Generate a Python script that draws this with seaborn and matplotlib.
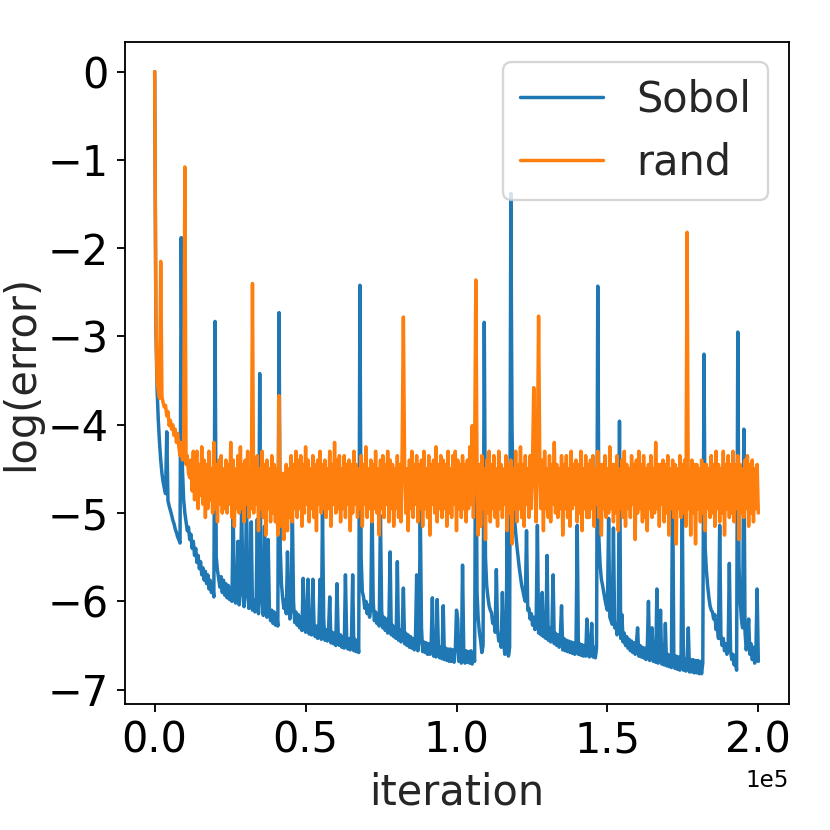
import numpy as np
import pandas as pd
import seaborn as sns
import matplotlib
matplotlib.use("Agg")
import matplotlib.pyplot as plt

# iteration grid: one logged value every 400 iterations, 0 .. 200000
step = 400
iterations = np.arange(501) * step

# log(error), Sobol sampling (20 values per row)
sobol = [
    0.0, -2.9, -3.6, -3.95, -4.2, -4.4, -4.55, -4.65, -4.72, -4.78,
    -4.08, -4.86, -4.92, -4.97, -5.02, -5.08, -5.12, -5.18, -5.22, -5.27,
    -5.3, -5.34, -1.88, -4.5, -4.85, -5.0, -5.1, -5.2, -5.16, -5.3,
    -5.24, -5.4, -5.32, -5.48, -5.4, -5.56, -5.48, -5.63, -5.55, -5.7,
    -5.62, -5.76, -5.66, -5.8, -5.7, -5.86, -5.76, -5.9, -5.82, -5.95,
    -2.83, -5.5, -5.65, -5.74, -5.84, -5.72, -5.9, -5.76, -5.93, -5.8,
    -5.96, -5.82, -5.98, -5.85, -6.0, -5.0, -5.88, -6.02, -5.9, -5.32,
    -6.04, -5.9, -4.95, -5.7, -6.06, -5.92, -4.84, -5.75, -6.08, -5.96,
    -5.1, -6.1, -5.98, -6.12, -6.0, -5.07, -6.14, -3.42, -5.8, -6.02,
    -6.16, -5.15, -6.05, -6.18, -5.3, -6.08, -6.22, -6.1, -6.25, -6.12,
    -6.27, -6.14, -6.28, -2.73, -5.4, -5.8, -5.96, -6.08, -5.98, -6.14,
    -5.44, -6.05, -6.2, -6.08, -4.95, -6.0, -6.24, -6.12, -6.27, -6.15,
    -6.3, -6.18, -6.33, -5.74, -6.2, -6.35, -6.22, -5.75, -6.37, -6.24,
    -6.38, -5.75, -6.26, -6.4, -6.28, -6.42, -6.3, -5.75, -6.43, -4.98,
    -6.2, -6.44, -6.32, -6.45, -6.33, -5.95, -6.47, -6.35, -6.48, -6.36,
    -6.5, -5.8, -6.38, -6.5, -6.38, -6.52, -6.4, -6.53, -5.7, -6.41,
    -6.54, -6.42, -6.55, -6.42, -5.7, -6.56, -6.43, -6.57, -6.45, -6.58,
    -2.42, -5.5, -5.89, -5.95, -6.08, -6.0, -6.14, -6.04, -6.18, -6.08,
    -4.84, -6.0, -6.22, -6.12, -6.25, -6.14, -6.28, -5.03, -6.1, -6.3,
    -6.18, -6.33, -6.2, -6.36, -6.24, -5.44, -6.38, -6.27, -6.4, -6.29,
    -6.42, -5.55, -6.44, -6.32, -6.46, -6.34, -5.85, -6.48, -6.36, -6.5,
    -6.38, -6.52, -6.4, -6.53, -6.42, -6.55, -6.43, -5.7, -6.56, -6.44,
    -4.98, -6.3, -6.57, -6.46, -6.58, -6.47, -6.6, -6.48, -6.6, -6.49,
    -5.96, -6.62, -6.5, -6.63, -5.98, -6.52, -6.64, -6.52, -6.65, -6.05,
    -6.66, -6.53, -6.67, -6.54, -6.68, -6.54, -6.68, -6.55, -6.69, -6.56,
    -6.1, -6.2, -6.68, -6.56, -6.7, -5.59, -6.57, -6.7, -6.56, -6.69,
    -6.57, -6.7, -6.56, -6.71, -6.58, -6.68, -3.3, -5.9, -6.2, -6.35,
    -6.45, -6.58, -6.5, -2.84, -5.5, -5.82, -5.95, -6.05, -6.1, -6.13,
    -6.25, -6.2, -6.35, -5.64, -6.32, -6.45, -6.38, -6.52, -5.9, -6.45,
    -6.6, -6.5, -5.17, -6.62, -6.52, -1.38, -4.05, -4.84, -5.05, -5.22,
    -5.37, -5.5, -5.62, -5.72, -5.82, -5.88, -5.95, -6.0, -5.2, -6.1,
    -6.08, -6.2, -6.14, -6.27, -6.18, -6.32, -6.22, -5.14, -6.36, -6.25,
    -6.38, -5.9, -6.4, -6.28, -6.42, -5.48, -6.44, -6.3, -6.46, -6.33,
    -5.7, -6.48, -6.36, -6.5, -6.38, -6.52, -6.4, -6.05, -6.55, -6.42,
    -6.56, -6.44, -6.57, -6.45, -6.58, -6.46, -6.59, -6.47, -6.6, -6.48,
    -5.14, -6.6, -6.48, -6.61, -6.49, -6.62, -6.5, -6.62, -6.2, -6.51,
    -6.63, -6.52, -6.25, -6.63, -6.52, -6.64, -6.53, -2.43, -5.3, -5.6,
    -5.75, -5.82, -5.9, -5.98, -6.05, -6.1, -5.06, -6.18, -6.22, -6.26,
    -5.17, -6.3, -6.25, -6.38, -6.3, -3.96, -6.42, -6.15, -6.46, -6.36,
    -6.5, -6.4, -6.53, -6.43, -6.56, -6.45, -6.58, -6.47, -6.6, -6.48,
    -6.3, -6.62, -6.5, -6.63, -6.52, -6.64, -6.53, -6.66, -6.54, -6.0,
    -6.67, -6.55, -6.3, -6.68, -6.56, -6.69, -5.86, -6.7, -6.58, -6.1,
    -6.71, -6.6, -6.72, -6.25, -6.73, -6.6, -6.74, -6.61, -6.75, -4.6,
    -6.62, -6.76, -6.62, -6.77, -6.63, -6.78, -6.64, -4.87, -6.78, -6.65,
    -6.79, -6.65, -6.3, -6.8, -6.66, -6.8, -6.66, -6.81, -6.67, -6.81,
    -6.67, -6.82, -6.68, -6.82, -6.7, -3.2, -5.4, -5.65, -5.82, -5.95,
    -6.05, -6.1, -6.12, -6.2, -6.15, -6.32, -6.25, -6.42, -5.14, -6.38,
    -6.5, -6.42, -6.56, -6.48, -6.6, -6.52, -5.57, -6.56, -6.66, -6.6,
    -6.72, -6.64, -6.78, -2.95, -5.6, -6.0, -6.2, -6.3, -4.05, -6.35,
    -6.55, -6.42, -6.2, -6.6, -6.48, -6.66, -6.52, -6.7, -6.56, -5.86,
    -6.68,
]

# log(error), plain random sampling (20 values per row)
rand = [
    0.0, -2.8, -3.5, -3.62, -3.7, -2.15, -3.68, -3.75, -3.8, -3.78,
    -3.9, -3.85, -4.01, -3.95, -4.05, -4.0, -4.12, -4.05, -4.2, -4.1,
    -4.25, -4.35, -4.2, -4.4, -4.3, -1.08, -4.45, -4.35, -4.55, -4.6,
    -4.4, -4.75, -4.3, -4.85, -4.45, -4.3, -4.95, -4.45, -4.8, -4.25,
    -4.9, -4.4, -5.05, -4.45, -4.95, -4.3, -4.85, -4.5, -5.0, -4.2,
    -4.95, -4.45, -5.1, -4.4, -4.9, -4.35, -5.0, -4.5, -4.95, -4.4,
    -5.0, -4.45, -4.9, -4.2, -5.05, -4.4, -5.15, -4.5, -4.95, -4.35,
    -5.0, -4.25, -4.95, -4.45, -5.1, -4.4, -4.9, -4.3, -5.05, -4.5,
    -4.95, -2.4, -5.0, -4.4, -4.9, -4.35, -5.2, -4.5, -4.95, -4.3,
    -5.05, -4.45, -5.25, -4.4, -4.95, -4.5, -5.1, -4.35, -5.0, -4.45,
    -5.1, -4.5, -5.25, -3.67, -4.95, -5.15, -4.55, -5.3, -4.95, -4.45,
    -5.2, -4.5, -5.05, -4.35, -5.1, -4.45, -4.95, -4.3, -5.05, -4.4,
    -4.95, -4.35, -5.15, -4.45, -5.0, -4.25, -4.9, -4.4, -5.1, -4.5,
    -4.95, -4.35, -5.05, -4.45, -5.2, -4.4, -4.9, -4.3, -5.0, -4.45,
    -4.95, -4.4, -5.05, -4.5, -4.95, -4.3, -5.15, -4.45, -4.9, -4.2,
    -5.0, -4.4, -4.95, -4.35, -5.1, -4.5, -4.95, -4.35, -5.05, -4.45,
    -4.9, -4.4, -5.2, -4.45, -5.0, -4.3, -4.9, -4.45, -5.05, -4.5,
    -4.95, -4.35, -5.15, -4.45, -4.9, -4.25, -5.05, -4.5, -4.95, -4.4,
    -5.1, -4.45, -4.95, -4.3, -5.0, -4.5, -5.25, -4.4, -4.95, -4.35,
    -5.05, -4.45, -4.9, -4.3, -5.1, -4.4, -4.95, -4.45, -5.15, -4.5,
    -4.95, -4.35, -5.05, -4.45, -5.1, -4.25, -2.78, -4.45, -5.0, -4.5,
    -5.2, -4.4, -4.95, -4.3, -5.05, -4.45, -4.9, -4.35, -5.1, -4.45,
    -4.95, -4.4, -5.15, -4.3, -4.95, -4.5, -5.05, -4.35, -5.25, -4.45,
    -4.9, -4.4, -5.0, -4.25, -5.1, -4.45, -4.95, -4.35, -5.05, -4.4,
    -4.95, -4.45, -5.15, -4.3, -5.0, -4.5, -5.05, -4.35, -4.9, -4.3,
    -5.2, -4.4, -4.95, -4.45, -5.05, -4.35, -4.95, -4.45, -5.1, -4.4,
    -4.95, -4.25, -4.9, -4.01, -5.05, -4.45, -2.36, -4.5, -5.25, -4.45,
    -5.15, -4.35, -4.95, -4.5, -5.3, -4.4, -5.0, -4.3, -5.1, -4.45,
    -4.95, -4.35, -5.05, -4.5, -5.15, -4.3, -4.95, -4.45, -5.05, -4.5,
    -4.9, -4.35, -5.2, -4.45, -5.0, -4.4, -5.35, -4.5, -4.95, -4.3,
    -5.1, -4.45, -4.95, -4.25, -5.05, -4.45, -5.15, -4.35, -4.9, -4.5,
    -5.05, -4.35, -4.95, -4.4, -3.58, -4.5, -5.1, -4.3, -2.77, -4.45,
    -4.95, -4.4, -5.2, -4.3, -4.95, -4.5, -5.05, -4.35, -5.1, -4.45,
    -4.9, -4.2, -5.0, -4.45, -5.05, -4.5, -4.95, -4.35, -5.25, -4.45,
    -4.95, -4.35, -5.05, -4.5, -5.15, -4.3, -4.95, -4.45, -4.9, -4.4,
    -5.1, -4.45, -5.0, -4.3, -5.2, -4.5, -4.95, -4.35, -5.05, -4.45,
    -5.05, -4.4, -4.95, -4.35, -5.15, -4.5, -4.9, -4.3, -5.05, -4.45,
    -5.25, -4.45, -4.95, -4.35, -5.05, -4.5, -5.0, -4.25, -4.95, -4.45,
    -5.1, -4.45, -5.0, -4.35, -5.2, -4.5, -4.95, -4.4, -5.05, -4.3,
    -5.15, -4.45, -4.95, -4.5, -5.05, -4.35, -4.9, -4.45, -5.3, -4.4,
    -5.0, -4.3, -4.95, -4.45, -5.1, -4.35, -5.05, -4.5, -5.2, -4.45,
    -4.95, -4.35, -5.05, -4.5, -5.0, -4.2, -4.95, -4.45, -5.15, -4.45,
    -4.9, -4.4, -5.1, -4.45, -5.0, -4.35, -5.25, -4.5, -4.95, -4.4,
    -5.05, -4.45, -5.35, -4.5, -4.95, -4.35, -5.05, -4.45, -5.0, -4.4,
    -5.15, -1.82, -4.95, -4.5, -5.25, -4.4, -5.0, -4.45, -5.35, -4.45,
    -4.95, -4.5, -5.1, -4.4, -5.0, -4.45, -5.2, -4.45, -4.95, -4.5,
    -5.05, -4.35, -5.0, -4.45, -5.15, -4.3, -4.95, -4.45, -5.1, -4.5,
    -5.0, -4.3, -5.25, -4.45, -4.95, -4.35, -5.05, -4.45, -5.0, -4.3,
    -5.1, -4.45, -4.95, -4.35, -5.3, -4.45, -5.0, -4.5, -5.05, -4.4,
    -4.95, -4.35, -5.15, -4.45, -5.0, -4.4, -5.1, -4.5, -4.95, -4.45,
    -5.0,
]

x_ticks = [0, 50000, 100000, 150000, 200000]
y_ticks = [0, -1, -2, -3, -4, -5, -6, -7]

df = pd.DataFrame({
    "iteration": np.concatenate([iterations, iterations]),
    "log_error": sobol + rand,
    "method": ["Sobol"] * len(sobol) + ["rand"] * len(rand),
})

sns.set_style("ticks", {"axes.edgecolor": "black",
                        "xtick.color": "black", "ytick.color": "black"})
plt.rcParams["font.family"] = ["DejaVu Sans"]

fig = plt.figure(figsize=(5, 5), dpi=166)
ax = fig.add_axes([0.15, 0.152, 0.8, 0.798])

sns.lineplot(data=df, x="iteration", y="log_error", hue="method",
             palette={"Sobol": "#1f77b4", "rand": "#ff7f0e"},
             estimator=None, linewidth=1.5, ax=ax)

ax.set_xticks(x_ticks)
ax.set_yticks(y_ticks)
ax.ticklabel_format(axis="x", style="sci", scilimits=(0, 0))
ax.tick_params(labelsize=18)
ax.set_xlabel("iteration", fontsize=18)
ax.set_ylabel("log(error)", fontsize=18, labelpad=2)
ax.legend(title=None, loc="upper right", fontsize=18)

fig.savefig("out.png", dpi=166)
